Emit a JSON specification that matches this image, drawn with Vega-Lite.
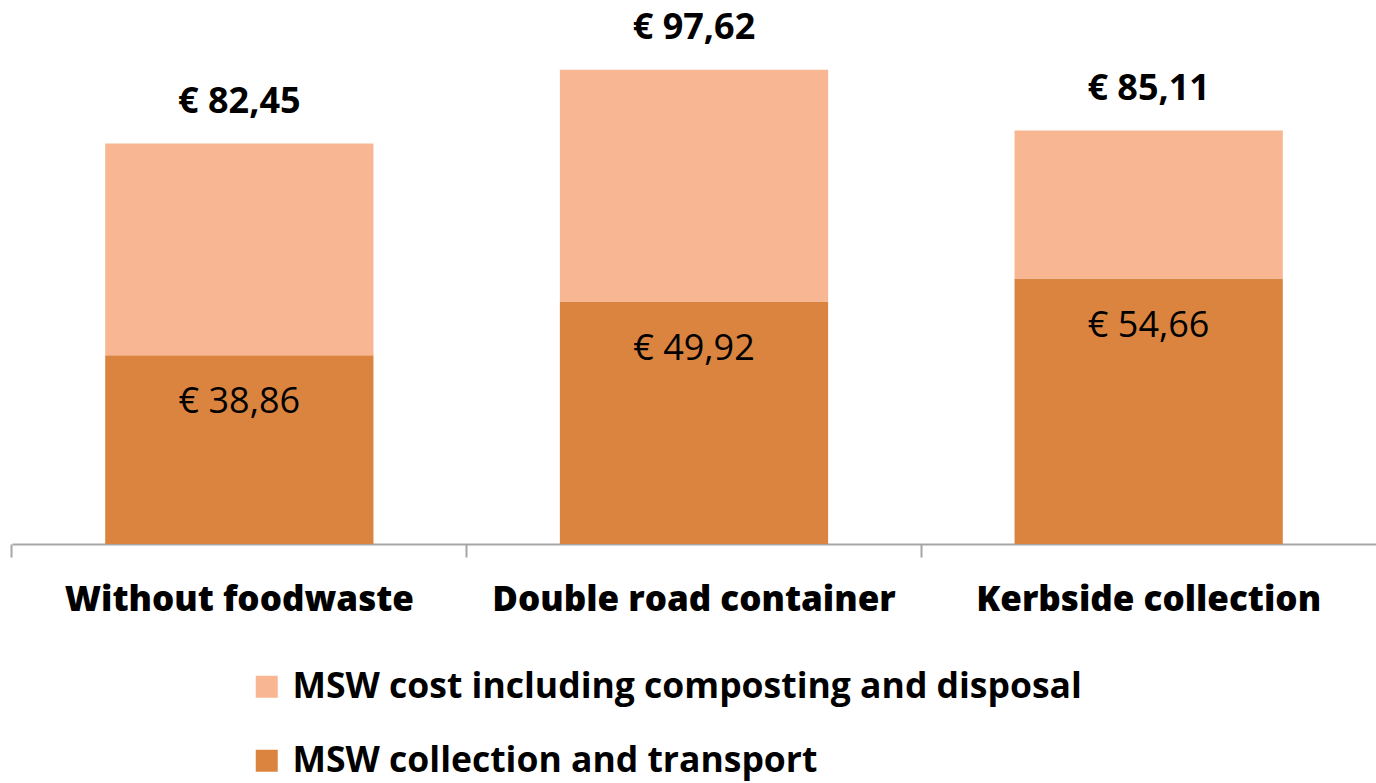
{
  "$schema": "https://vega.github.io/schema/vega-lite/v6.json",
  "width": 1364,
  "height": 544,
  "autosize": {"type": "none"},
  "padding": {"left": 12, "top": 0, "right": 0, "bottom": 239},
  "background": "white",
  "config": {
    "view": {"stroke": null},
    "font": "Open Sans",
    "locale": {"number": {"decimal": ",", "thousands": ".", "grouping": [3], "currency": ["€ ", ""]}}
  },
  "data": {
    "values": [
      {"category": "Without foodwaste", "series": "MSW collection and transport", "value": 38.86},
      {"category": "Without foodwaste", "series": "MSW cost including composting and disposal", "value": 43.59},
      {"category": "Double road container", "series": "MSW collection and transport", "value": 49.92},
      {"category": "Double road container", "series": "MSW cost including composting and disposal", "value": 47.70},
      {"category": "Kerbside collection", "series": "MSW collection and transport", "value": 54.66},
      {"category": "Kerbside collection", "series": "MSW cost including composting and disposal", "value": 30.45}
    ]
  },
  "encoding": {
    "x": {
      "field": "category", "type": "nominal", "sort": null,
      "scale": {"paddingInner": 0.41, "paddingOuter": 0.205},
      "axis": {
        "title": null, "labelAngle": 0, "bandPosition": -0.3475,
        "domainColor": "#A6A6A6", "domainWidth": 2, "tickColor": "#A6A6A6", "tickWidth": 2, "tickSize": 13,
        "labelFont": "Open Sans", "labelFontSize": 35, "labelFontWeight": 800, "labelColor": "black", "labelPadding": 25,
        "labelLimit": 1000, "labelOffset": 0
      }
    }
  },
  "layer": [
    {
      "mark": {"type": "bar"},
      "encoding": {
        "y": {"field": "value", "type": "quantitative", "stack": "zero", "scale": {"domain": [0, 112], "nice": false}, "axis": null},
        "color": {
          "field": "series", "type": "nominal",
          "scale": {"domain": ["MSW cost including composting and disposal", "MSW collection and transport"], "range": ["#F8B692", "#DB843F"]},
          "legend": {
            "title": null, "orient": "none", "legendX": 237, "legendY": 669, "direction": "vertical",
            "symbolType": "square", "symbolSize": 484, "symbolStrokeWidth": 0, "symbolOpacity": 1,
            "labelFont": "Open Sans", "labelFontSize": 35.5, "labelFontWeight": "bold", "labelColor": "black",
            "labelOffset": 8, "rowPadding": 37, "labelLimit": 1000
          }
        },
        "order": {"field": "series", "sort": "ascending"}
      }
    },
    {
      "transform": [{"filter": "datum.series === 'MSW collection and transport'"}],
      "mark": {"type": "text", "baseline": "middle", "dy": 47, "fontSize": 36, "font": "Open Sans", "color": "black"},
      "encoding": {
        "y": {"field": "value", "type": "quantitative"},
        "text": {"field": "value", "type": "quantitative", "format": "$.2f"}
      }
    },
    {
      "transform": [{"aggregate": [{"op": "sum", "field": "value", "as": "total"}], "groupby": ["category"]}],
      "mark": {"type": "text", "baseline": "middle", "dy": -42, "fontSize": 36, "fontWeight": "bold", "font": "Open Sans", "color": "black"},
      "encoding": {
        "y": {"field": "total", "type": "quantitative"},
        "text": {"field": "total", "type": "quantitative", "format": "$.2f"}
      }
    }
  ]
}
